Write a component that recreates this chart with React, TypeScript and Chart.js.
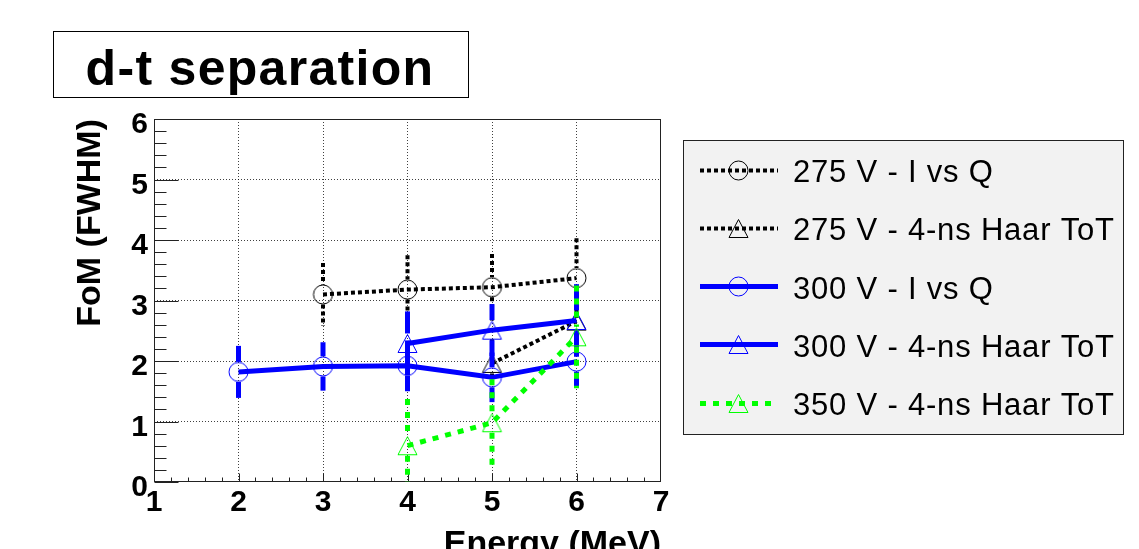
import React, { useEffect, useRef } from "react";
import { Chart, registerables } from "chart.js";

Chart.register(...registerables);

const FONT = "'Liberation Sans', Arial, Helvetica, sans-serif";

// ---- data ----
const energies = [2, 3, 4, 5, 6];

const fom275IvsQ = [null, 3.1, 3.18, 3.22, 3.37];
const err275IvsQ = [null, 0.52, 0.57, 0.55, 0.66];

const fom275Haar = [null, null, null, 1.96, 2.66];
const err275Haar = [null, null, null, 0.4, 0.5];

const fom300IvsQ = [1.82, 1.91, 1.92, 1.73, 1.99];
const err300IvsQ = [0.43, 0.4, 0.42, 0.41, 0.42];

const fom300Haar = [null, null, 2.29, 2.51, 2.67];
const err300Haar = [null, null, 0.53, 0.43, 0.6];

const fom350Haar = [null, null, 0.6, 0.98, 2.4];
const err350Haar = [null, null, 0.77, 0.72, 0.85];

const seriesLabels = [
  "275 V - I vs Q",
  "275 V - 4-ns Haar ToT",
  "300 V - I vs Q",
  "300 V - 4-ns Haar ToT",
  "350 V - 4-ns Haar ToT",
];

const xTickValues = [1, 2, 3, 4, 5, 6, 7];
const yTickValues = [0, 1, 2, 3, 4, 5, 6];

const titleText = "d-t separation";
const xTitleText = "Energy (MeV)";
const yTitleText = "FoM (FWHM)";

// ---- styles ----
const seriesColors = ["#000000", "#000000", "#0000ff", "#0000ff", "#00ff00"];
const seriesMarkers = ["circle", "triangle", "circle", "triangle", "triangle"];
const seriesDash: number[][] = [[4, 3], [4, 3], [], [], [6, 7]];
const seriesWidth = [4, 4, 5, 5, 5];

function makeMarker(shape: string, color: string): HTMLCanvasElement {
  const c = document.createElement("canvas");
  c.width = 23;
  c.height = 23;
  const g = c.getContext("2d")!;
  g.strokeStyle = color;
  g.lineWidth = 1;
  g.beginPath();
  if (shape === "circle") {
    g.arc(11.5, 11.5, 9.5, 0, Math.PI * 2);
  } else {
    g.moveTo(11.5, 2.5);
    g.lineTo(2, 20.5);
    g.lineTo(21, 20.5);
    g.closePath();
  }
  g.stroke();
  return c;
}

export default function App() {
  const ref = useRef<HTMLCanvasElement>(null);

  useEffect(() => {
    const canvas = ref.current!;
    const markers = seriesMarkers.map((m, i) => makeMarker(m, seriesColors[i]));
    const values = [fom275IvsQ, fom275Haar, fom300IvsQ, fom300Haar, fom350Haar];
    const errors = [err275IvsQ, err275Haar, err300IvsQ, err300Haar, err350Haar];

    const datasets = seriesLabels.map((label, i) => ({
      label,
      data: energies
        .map((x, j) => (values[i][j] == null ? null : { x, y: values[i][j], err: errors[i][j] }))
        .filter((p) => p !== null),
      borderColor: seriesColors[i],
      backgroundColor: "transparent",
      borderWidth: seriesWidth[i],
      borderDash: seriesDash[i],
      borderCapStyle: "butt",
      pointStyle: markers[i],
      pointRadius: 10,
      pointHoverRadius: 10,
      pointBorderWidth: 1,
      pointBackgroundColor: "transparent",
      pointBorderColor: seriesColors[i],
      tension: 0,
      fill: false,
      order: 5 - i,
    }));

    const errorBars = {
      id: "errorBars",
      beforeDatasetDraw(chart: any, args: any) {
        const ds = chart.data.datasets[args.index];
        const { ctx, chartArea } = chart;
        const yScale = chart.scales.y;
        const gap = 10;
        ctx.save();
        ctx.beginPath();
        ctx.rect(chartArea.left, chartArea.top, chartArea.right - chartArea.left, chartArea.bottom - chartArea.top);
        ctx.clip();
        ctx.strokeStyle = ds.borderColor;
        ctx.lineWidth = ds.borderWidth;
        ctx.lineCap = "butt";
        ctx.setLineDash(ds.borderDash || []);
        args.meta.data.forEach((pt: any, j: number) => {
          const raw = ds.data[j];
          if (!raw || raw.err == null) return;
          const top = yScale.getPixelForValue(raw.y + raw.err);
          const bot = yScale.getPixelForValue(raw.y - raw.err);
          const px = pt.x;
          const py = pt.y;
          if (top < py - gap) {
            ctx.beginPath();
            ctx.moveTo(px, top);
            ctx.lineTo(px, py - gap);
            ctx.stroke();
          }
          if (bot > py + gap) {
            ctx.beginPath();
            ctx.moveTo(px, py + gap);
            ctx.lineTo(px, bot);
            ctx.stroke();
          }
        });
        ctx.restore();
      },
    };

    const frameTicks = {
      id: "frameTicks",
      beforeDatasetsDraw(chart: any) {
        const { ctx, chartArea } = chart;
        const xs = chart.scales.x;
        const ys = chart.scales.y;
        const L = Math.round(chartArea.left) + 0.5;
        const R = Math.round(chartArea.right) - 0.5;
        const T = Math.round(chartArea.top) + 0.5;
        const B = Math.round(chartArea.bottom) - 0.5;
        ctx.save();
        ctx.strokeStyle = "#222";
        ctx.lineWidth = 1;
        ctx.setLineDash([]);
        ctx.beginPath();
        const sub = 5;
        for (let k = 0; k < yTickValues.length - 1; k++) {
          for (let s = 0; s < sub; s++) {
            const v = yTickValues[k] + ((yTickValues[k + 1] - yTickValues[k]) * s) / sub;
            const p = Math.round(ys.getPixelForValue(v)) + 0.5;
            const len = s === 0 ? 24 : 12;
            ctx.moveTo(L, p);
            ctx.lineTo(L + len, p);
          }
        }
        for (let k = 0; k < xTickValues.length - 1; k++) {
          for (let s = 0; s < sub; s++) {
            const v = xTickValues[k] + ((xTickValues[k + 1] - xTickValues[k]) * s) / sub;
            const p = Math.round(xs.getPixelForValue(v)) + 0.5;
            const len = s === 0 ? 8 : 4;
            ctx.moveTo(p, B);
            ctx.lineTo(p, B - len);
          }
        }
        ctx.stroke();
        ctx.strokeRect(L, T, R - L, B - T);
        ctx.restore();
      },
    };

    const titleLegend = {
      id: "titleLegend",
      afterDraw(chart: any) {
        const ctx = chart.ctx;
        ctx.save();
        // title box
        ctx.fillStyle = "#ffffff";
        ctx.fillRect(53.5, 31.5, 415, 66);
        ctx.strokeStyle = "#000";
        ctx.lineWidth = 1;
        ctx.setLineDash([]);
        ctx.strokeRect(53.5, 31.5, 415, 66);
        ctx.fillStyle = "#000";
        ctx.font = `bold 50px ${FONT}`;
        (ctx as any).letterSpacing = "1.3px";
        ctx.textAlign = "center";
        ctx.textBaseline = "alphabetic";
        ctx.fillText(titleText, 260, 85);

        // legend box
        ctx.fillStyle = "#f2f2f2";
        ctx.fillRect(683.5, 140.5, 440, 294);
        ctx.strokeStyle = "#222";
        ctx.strokeRect(683.5, 140.5, 440, 294);
        (ctx as any).letterSpacing = "0.8px";
        seriesLabels.forEach((label, i) => {
          const cy = 173.5 + i * 58.3;
          const ly = Math.round(cy - 4) + 0.5;
          ctx.save();
          ctx.strokeStyle = seriesColors[i];
          ctx.lineWidth = seriesWidth[i];
          ctx.lineCap = "butt";
          ctx.setLineDash(seriesDash[i]);
          ctx.beginPath();
          ctx.moveTo(700, ly);
          ctx.lineTo(778, ly);
          ctx.stroke();
          ctx.restore();
          ctx.drawImage(markers[i], 738.5 - 11.5, ly - 11.5);
          ctx.fillStyle = "#000";
          ctx.font = `31px ${FONT}`;
          ctx.textAlign = "left";
          ctx.textBaseline = "middle";
          ctx.fillText(label, 793, cy);
        });
        (ctx as any).letterSpacing = "0px";
        ctx.restore();
      },
    };

    const gridColor = (bounds: number[]) => (c: any) =>
      c.tick && bounds.includes(c.tick.value) ? "rgba(0,0,0,0)" : "rgba(0,0,0,0.75)";

    const chart = new Chart(canvas, {
      type: "line",
      data: { datasets: datasets as any },
      plugins: [errorBars, frameTicks, titleLegend],
      options: {
        responsive: false,
        animation: false,
        devicePixelRatio: 1,
        layout: { padding: { left: 0, right: 478, top: 119, bottom: 0 } },
        plugins: {
          legend: { display: false },
          title: { display: false },
          tooltip: { enabled: false },
        },
        events: [],
        scales: {
          x: {
            type: "linear",
            min: xTickValues[0],
            max: xTickValues[xTickValues.length - 1],
            afterFit: (s: any) => {
              s.height = 67;
            },
            ticks: {
              stepSize: 1,
              color: "#000",
              font: { family: FONT, size: 30, weight: "bold" },
              padding: 3,
              maxRotation: 0,
              autoSkip: false,
            },
            grid: {
              color: gridColor([xTickValues[0], xTickValues[xTickValues.length - 1]]),
              lineWidth: 1,
              drawTicks: false,
            },
            border: { display: false, dash: [1, 2] },
            title: {
              display: true,
              text: xTitleText,
              align: "end",
              color: "#000",
              font: { family: FONT, size: 34, weight: "bold" },
              padding: { top: 0, bottom: -16 },
            },
          },
          y: {
            type: "linear",
            min: yTickValues[0],
            max: yTickValues[yTickValues.length - 1],
            afterFit: (s: any) => {
              s.width = 154;
            },
            ticks: {
              stepSize: 1,
              color: "#000",
              font: { family: FONT, size: 30, weight: "bold" },
              padding: 6,
              labelOffset: 6,
            },
            grid: {
              color: gridColor([yTickValues[0], yTickValues[yTickValues.length - 1]]),
              lineWidth: 1,
              drawTicks: false,
            },
            border: { display: false, dash: [1, 2] },
            title: {
              display: true,
              text: yTitleText,
              align: "end",
              color: "#000",
              font: { family: FONT, size: 34, weight: "bold" },
              padding: { top: 70, bottom: 0 },
            },
          },
        },
      } as any,
    });

    return () => chart.destroy();
  }, []);

  return (
    <div style={{ position: "absolute", left: 0, top: 0, width: 1139, height: 549, background: "#fff" }}>
      <canvas ref={ref} width={1139} height={549} style={{ display: "block", width: 1139, height: 549 }} />
    </div>
  );
}
